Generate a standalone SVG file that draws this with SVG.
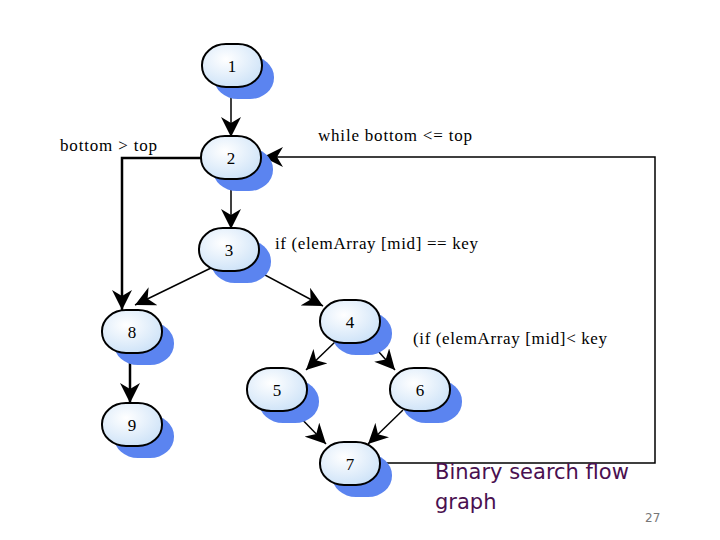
<svg xmlns="http://www.w3.org/2000/svg" width="720" height="540" viewBox="0 0 720 540">
<defs>
<radialGradient id="nf" cx="0.4" cy="0.35" r="0.75">
<stop offset="0" stop-color="#ffffff"/>
<stop offset="1" stop-color="#c9e0f7"/>
</radialGradient>
<marker id="ab" viewBox="0 0 10 10" refX="10" refY="5" markerWidth="20" markerHeight="20" markerUnits="userSpaceOnUse" orient="auto">
<path d="M0,0 L10,5 L0,10 L3,5 Z" fill="#000"/>
</marker>
</defs>
<style>
.sh{fill:#5b84f0}
.nd{fill:url(#nf);stroke:#000;stroke-width:2}
.nt{font-family:"Liberation Serif",serif;font-size:17px;text-anchor:middle;fill:#000}
.lb{font-family:"Liberation Serif",serif;font-size:17px;fill:#000}
.e{fill:none;stroke:#000;stroke-width:1.5;marker-end:url(#ab)}
.e2{fill:none;stroke:#000;stroke-width:2.5;marker-end:url(#ab)}
</style>
<rect width="720" height="540" fill="#fff"/>
<g id="connectors">
<line class="e" x1="231" y1="87" x2="231" y2="137"/>
<line class="e" x1="231" y1="180" x2="231" y2="229"/>
<polyline class="e2" points="201,158 122,158 122,310"/>
<line class="e" x1="211" y1="268" x2="135" y2="305"/>
<line class="e" x1="252" y1="268" x2="323" y2="306"/>
<line class="e" x1="335" y1="342" x2="306" y2="370"/>
<line class="e" x1="370" y1="342" x2="395" y2="370"/>
<line class="e" x1="293" y1="410" x2="326" y2="444"/>
<line class="e" x1="403" y1="410" x2="368" y2="444"/>
<line class="e2" x1="130" y1="353" x2="130" y2="403"/>
<polyline class="e" points="380,463 655,463 655,157 263,157"/>
</g>
<g id="n1"><rect class="sh" x="214" y="56" width="60" height="43" rx="24" ry="21"/><rect class="nd" x="202" y="44" width="60" height="43" rx="24" ry="21"/><text class="nt" x="232" y="72">1</text></g>
<g id="n2"><rect class="sh" x="213" y="148" width="60" height="43" rx="24" ry="21"/><rect class="nd" x="201" y="136" width="60" height="43" rx="24" ry="21"/><text class="nt" x="231" y="164">2</text></g>
<g id="n3"><rect class="sh" x="211" y="240" width="60" height="43" rx="24" ry="21"/><rect class="nd" x="199" y="228" width="60" height="43" rx="24" ry="21"/><text class="nt" x="229" y="256">3</text></g>
<g id="n4"><rect class="sh" x="332" y="312" width="60" height="43" rx="24" ry="21"/><rect class="nd" x="320" y="300" width="60" height="43" rx="24" ry="21"/><text class="nt" x="350" y="328">4</text></g>
<g id="n5"><rect class="sh" x="259" y="380" width="60" height="43" rx="24" ry="21"/><rect class="nd" x="247" y="368" width="60" height="43" rx="24" ry="21"/><text class="nt" x="277" y="396">5</text></g>
<g id="n6"><rect class="sh" x="402" y="380" width="60" height="43" rx="24" ry="21"/><rect class="nd" x="390" y="368" width="60" height="43" rx="24" ry="21"/><text class="nt" x="420" y="396">6</text></g>
<g id="n7"><rect class="sh" x="332" y="454" width="60" height="43" rx="24" ry="21"/><rect class="nd" x="320" y="442" width="60" height="43" rx="24" ry="21"/><text class="nt" x="350" y="470">7</text></g>
<g id="n8"><rect class="sh" x="114" y="322" width="60" height="43" rx="24" ry="21"/><rect class="nd" x="102" y="310" width="60" height="43" rx="24" ry="21"/><text class="nt" x="132" y="338">8</text></g>
<g id="n9"><rect class="sh" x="114" y="415" width="60" height="43" rx="24" ry="21"/><rect class="nd" x="102" y="403" width="60" height="43" rx="24" ry="21"/><text class="nt" x="132" y="431">9</text></g>
<g id="labels">
<text class="lb" x="60" y="151" textLength="97" lengthAdjust="spacing">bottom &gt; top</text>
<text class="lb" x="318" y="141" textLength="154" lengthAdjust="spacing">while bottom &lt;= top</text>
<text class="lb" x="275" y="249" textLength="203" lengthAdjust="spacing">if (elemArray [mid] == key</text>
<text class="lb" x="413" y="344" textLength="194" lengthAdjust="spacing">(if (elemArray [mid]&lt; key</text>
<text x="435" y="479" font-family="'DejaVu Sans',sans-serif" font-size="21" fill="#4a1050">Binary search flow</text>
<text x="435" y="509" font-family="'DejaVu Sans',sans-serif" font-size="21" fill="#4a1050">graph</text>
<text x="645" y="522" font-family="'DejaVu Sans',sans-serif" font-size="12" fill="#777">27</text>
</g>
</svg>
